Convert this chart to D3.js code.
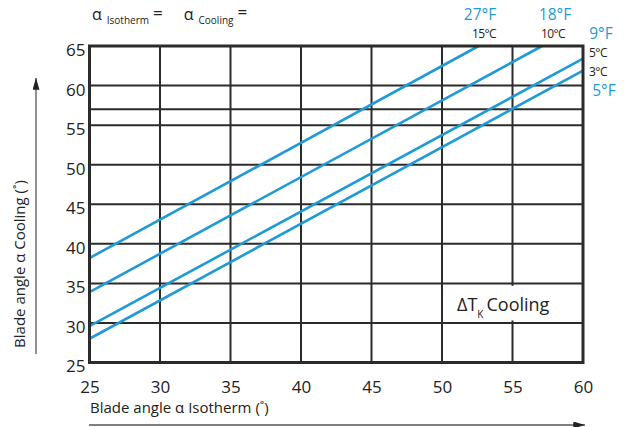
<!DOCTYPE html>
<html>
<head>
<meta charset="utf-8">
<script src="https://cdn.jsdelivr.net/npm/d3@7"></script>
<style>
  html, body { margin: 0; padding: 0; background: #fff; }
  svg { display: block; font-family: "Open Sans", "Noto Sans", sans-serif; }
</style>
</head>
<body>
<svg id="chart" width="634" height="427"></svg>
<script>
// Blade angle conversion: isotherm angle -> cooling angle for several ΔT_K
const xTicks = [25, 30, 35, 40, 45, 50, 55, 60];
const yTicks = [25, 30, 35, 40, 45, 50, 55, 60, 65];
const yGrid = [30, 35, 40, 45, 50, 55, 57, 60];

const seriesF = ["27°F", "18°F", "9°F", "5°F"];
const seriesC = ["15°C", "10°C", "5°C", "3°C"];
const isothermStart = [25, 25, 25, 25];
const coolingStart = [38.2, 33.9, 29.6, 28.0];
const isothermEnd = [52.6, 57.1, 60, 60];
const coolingEnd = [65, 65, 63.4, 61.9];

const blue = "#1e9ad6";
const ink = "#2b2b2b";

const svg = d3.select("#chart");
const x = d3.scaleLinear().domain([25, 60]).range([89.5, 583]);
const y = d3.scaleLinear().domain([25, 65]).range([362.5, 46]);

// grid
const g = svg.append("g");
g.selectAll("line.v").data(xTicks.slice(1, -1)).join("line")
  .attr("x1", d => x(d)).attr("x2", d => x(d))
  .attr("y1", y(65)).attr("y2", y(25))
  .attr("stroke", ink).attr("stroke-width", 2);
g.selectAll("line.h").data(yGrid).join("line")
  .attr("x1", x(25)).attr("x2", x(60))
  .attr("y1", d => y(d)).attr("y2", d => y(d))
  .attr("stroke", ink).attr("stroke-width", 2);

// curves
const line = d3.line().x(d => x(d[0])).y(d => y(d[1]));
const series = seriesF.map((f, i) => ({
  f, c: seriesC[i],
  pts: [[isothermStart[i], coolingStart[i]], [isothermEnd[i], coolingEnd[i]]]
}));
svg.append("g").selectAll("path").data(series).join("path")
  .attr("d", d => line(d.pts))
  .attr("fill", "none").attr("stroke", blue).attr("stroke-width", 2.6);

// label box inside the plot
const box = svg.append("g");
box.append("rect")
  .attr("x", 448).attr("y", y(35) + 2.5)
  .attr("width", 118).attr("height", y(30) - y(35) - 5)
  .attr("fill", "#fff");
const bt = box.append("text").attr("x", 457).attr("y", 311)
  .attr("font-size", 18).attr("fill", "#222");
bt.append("tspan").text("ΔT");
bt.append("tspan").attr("font-size", 10).attr("dy", 7).text("K");
bt.append("tspan").attr("dy", -7).attr("dx", 3).text("Cooling");

// frame
svg.append("rect")
  .attr("x", x(25)).attr("y", y(65))
  .attr("width", x(60) - x(25)).attr("height", y(25) - y(65))
  .attr("fill", "none").attr("stroke", ink).attr("stroke-width", 3);

// axes
const ax = svg.append("g").attr("transform", `translate(0,${y(25)})`)
  .call(d3.axisBottom(x).tickValues(xTicks).tickSize(0).tickPadding(0));
ax.select(".domain").remove();
ax.selectAll("text").attr("y", 30).attr("dy", 0)
  .attr("font-size", 17).attr("fill", "#222")
  .attr("font-family", "'Open Sans', sans-serif");

const ay = svg.append("g").attr("transform", `translate(${x(25)},0)`)
  .call(d3.axisLeft(y).tickValues(yTicks).tickSize(0).tickPadding(4));
ay.select(".domain").remove();
ay.selectAll("text").attr("dy", "0.32em").attr("transform", "translate(0,4)")
  .attr("font-size", 17).attr("fill", "#222")
  .attr("font-family", "'Open Sans', sans-serif");

// end labels
const fPos = [[480, 20], [555, 20], [601, 39], [604, 96]];
const cPos = [[484, 38], [553, 38], [598, 57], [598, 76]];
svg.append("g").selectAll("text").data(series).join("text")
  .attr("x", (d, i) => fPos[i][0]).attr("y", (d, i) => fPos[i][1])
  .attr("text-anchor", "middle").attr("font-size", 15.5).attr("fill", blue)
  .text(d => d.f);
svg.append("g").selectAll("text").data(series).join("text")
  .attr("x", (d, i) => cPos[i][0]).attr("y", (d, i) => cPos[i][1])
  .attr("text-anchor", "middle").attr("font-size", 12).attr("fill", "#222")
  .attr("letter-spacing", -0.6)
  .text(d => d.c);

// header formula
const hdr = svg.append("text").attr("x", 92).attr("y", 20)
  .attr("font-size", 16).attr("fill", "#222");
hdr.append("tspan").text("α");
hdr.append("tspan").attr("font-size", 10).attr("dy", 4).attr("dx", 5).text("Isotherm");
hdr.append("tspan").attr("dy", -5).attr("dx", 4).attr("font-size", 17).text("=");
hdr.append("tspan").attr("dy", 1).attr("dx", 21).text("α");
hdr.append("tspan").attr("font-size", 10).attr("dy", 4).attr("dx", 5).text("Cooling");
hdr.append("tspan").attr("dy", -6).attr("dx", 4).attr("font-size", 17).text("=");

// axis titles
svg.append("text").attr("x", 90).attr("y", 413)
  .attr("font-size", 15).attr("fill", "#222")
  .text("Blade angle  α Isotherm (˚)");
svg.append("text").attr("transform", "translate(25,264) rotate(-90)")
  .attr("text-anchor", "middle").attr("font-size", 15).attr("fill", "#222")
  .text("Blade angle  α Cooling (˚)");

// direction arrows
const defs = svg.append("defs");
defs.append("marker").attr("id", "arr")
  .attr("viewBox", "0 0 10 6").attr("refX", 10).attr("refY", 3)
  .attr("markerUnits", "userSpaceOnUse")
  .attr("markerWidth", 15).attr("markerHeight", 7).attr("orient", "auto")
  .append("path").attr("d", "M0,0L10,3L0,6Z").attr("fill", "#222");
svg.append("line").attr("x1", 89).attr("x2", 585).attr("y1", 425).attr("y2", 425)
  .attr("stroke", "#555").attr("stroke-width", 1.3).attr("marker-end", "url(#arr)");
svg.append("line").attr("x1", 36).attr("x2", 36).attr("y1", 354).attr("y2", 78)
  .attr("stroke", "#555").attr("stroke-width", 1.3).attr("marker-end", "url(#arr)");
</script>
</body>
</html>
